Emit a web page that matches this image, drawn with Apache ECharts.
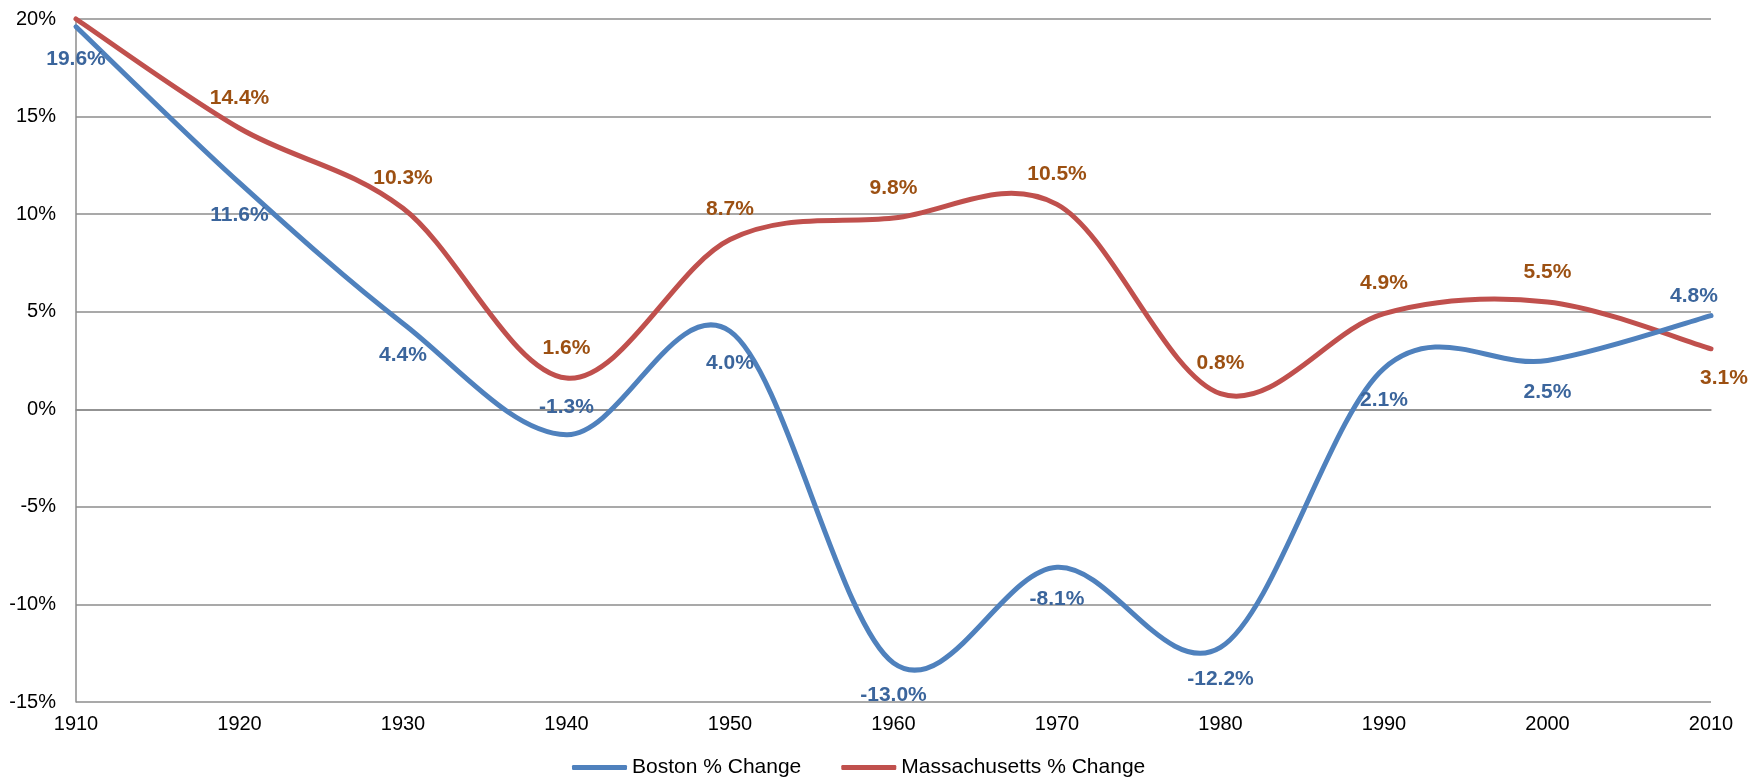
<!DOCTYPE html>
<html>
<head>
<meta charset="utf-8">
<script src="https://cdn.jsdelivr.net/npm/echarts@6/dist/echarts.min.js"></script>
<style>
  html, body { margin: 0; padding: 0; background: #fff; }
  #chart { width: 1764px; height: 781px; }
</style>
</head>
<body>
<div id="chart"></div>
<script>
// census decades
const years = [1910, 1920, 1930, 1940, 1950, 1960, 1970, 1980, 1990, 2000, 2010];
// % change from previous census
const bostonChange = [19.6, 11.6, 4.4, -1.3, 4.0, -13.0, -8.1, -12.2, 2.1, 2.5, 4.8];
const massChange = [20.0, 14.4, 10.3, 1.6, 8.7, 9.8, 10.5, 0.8, 4.9, 5.5, 3.1];
const yTicks = [-15, -10, -5, 0, 5, 10, 15, 20];

const font = "'Liberation Sans', Arial, sans-serif";

const chart = echarts.init(document.getElementById('chart'));

// label offset (px) from the point, like the excel chart
function bostonOffset(i) {
  if (i === 3) return [0, -27];
  if (i === years.length - 1) return [-17, -19];
  return [0, 32];
}
function massOffset(i) {
  if (i === 0) return null; // hidden behind the top edge
  if (i === years.length - 1) return [13, 29];
  return [0, -30];
}

// excel style smoothing (catmull-rom through every point)
function smoothPath(pts) {
  let d = 'M' + pts[0][0] + ' ' + pts[0][1];
  for (let i = 0; i < pts.length - 1; i++) {
    const p0 = pts[i - 1] || pts[i];
    const p1 = pts[i];
    const p2 = pts[i + 1];
    const p3 = pts[i + 2] || p2;
    const c1 = [p1[0] + (p2[0] - p0[0]) / 6, p1[1] + (p2[1] - p0[1]) / 6];
    const c2 = [p2[0] - (p3[0] - p1[0]) / 6, p2[1] - (p3[1] - p1[1]) / 6];
    d += ' C' + c1.join(' ') + ' ' + c2.join(' ') + ' ' + p2.join(' ');
  }
  return d;
}

function makeSeries(name, values, lineColor, labelColor, offsetFn, z) {
  return {
    name: name,
    type: 'custom',
    z: z,
    clip: false,
    itemStyle: { color: lineColor },
    data: years.map((y, i) => [y, values[i]]),
    encode: { x: 0, y: 1 },
    renderItem: (params, api) => {
      const i = params.dataIndex;
      const children = [];
      if (i === 0) {
        const pts = years.map((y, k) => api.coord([y, values[k]]));
        children.push({
          type: 'path',
          shape: { pathData: smoothPath(pts) },
          style: { stroke: lineColor, lineWidth: 5, fill: null, lineCap: 'round', lineJoin: 'round' }
        });
      }
      const off = offsetFn(i);
      if (off) {
        const p = api.coord([years[i], values[i]]);
        children.push({
          type: 'text',
          z2: 10,
          style: {
            text: values[i].toFixed(1) + '%',
            x: p[0] + off[0],
            y: p[1] + off[1],
            align: 'center',
            verticalAlign: 'middle',
            font: 'bold 21px ' + font,
            fill: labelColor
          }
        });
      }
      return { type: 'group', children: children };
    }
  };
}

chart.setOption({
  animation: false,
  grid: { left: 76, right: 53, top: 19, bottom: 79, containLabel: false },
  legend: {
    left: 567,
    top: 752,
    itemWidth: 55,
    itemHeight: 5,
    itemGap: 40,
    icon: 'roundRect',
    textStyle: { fontFamily: font, fontSize: 21, color: '#000' },
    data: ['Boston % Change', 'Massachusetts % Change']
  },
  xAxis: {
    type: 'value',
    min: 1910,
    max: 2010,
    interval: 10,
    axisLine: { lineStyle: { color: '#8c8c8c', width: 1.5 } },
    axisTick: { show: false },
    splitLine: { show: false },
    axisLabel: { fontFamily: font, fontSize: 20, color: '#000', margin: 12, formatter: v => String(v) }
  },
  yAxis: {
    type: 'value',
    min: yTicks[0],
    max: yTicks[yTicks.length - 1],
    interval: 5,
    axisLine: { show: true, lineStyle: { color: '#8c8c8c', width: 1.5 } },
    axisTick: { show: false },
    splitLine: { lineStyle: { color: '#8c8c8c', width: 1.5 } },
    axisLabel: {
      fontFamily: font, fontSize: 20, color: '#000', margin: 20,
      formatter: v => v + '%'
    }
  },
  series: [
    makeSeries('Massachusetts % Change', massChange, '#c0504d', '#9c5012', massOffset, 2),
    makeSeries('Boston % Change', bostonChange, '#4f81bd', '#3b659c', bostonOffset, 3)
  ]
});
</script>
</body>
</html>
